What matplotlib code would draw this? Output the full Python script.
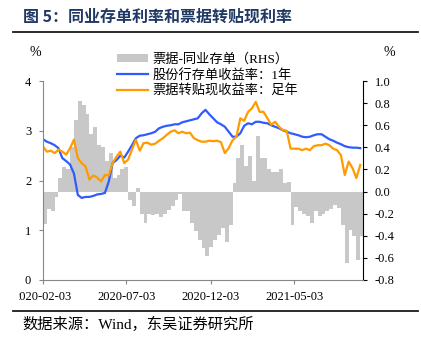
import matplotlib
matplotlib.use("Agg")
import matplotlib.pyplot as plt
import matplotlib.dates as mdates
from matplotlib.lines import Line2D
from matplotlib.patches import Patch, Rectangle
import numpy as np
import pandas as pd

plt.rcParams['axes.unicode_minus'] = False

# ---------------- data (weekly readings) ----------------
start_date = "2020-02-03"
end_date = "2021-09-04"
n_weeks = 83

deposit_1y = [2.83, 2.78, 2.75, 2.71, 2.65, 2.45, 2.39, 2.32, 2.14, 1.71,
              1.65, 1.67, 1.67, 1.69, 1.72, 1.73, 1.75, 1.98, 2.35, 2.41,
              2.50, 2.46, 2.58, 2.71, 2.85, 2.90, 2.91, 2.93, 2.95, 2.98,
              3.05, 3.08, 3.10, 3.11, 3.13, 3.13, 3.17, 3.19, 3.21, 3.23,
              3.25, 3.35, 3.42, 3.33, 3.25, 3.17, 3.13, 3.08, 2.98, 2.88,
              2.88, 2.95, 3.10, 3.15, 3.13, 3.18, 3.18, 3.16, 3.15, 3.11,
              3.08, 3.05, 3.01, 2.98, 2.95, 2.93, 2.91, 2.88, 2.87, 2.88,
              2.91, 2.93, 2.93, 2.88, 2.83, 2.80, 2.76, 2.73, 2.69, 2.67,
              2.66, 2.66, 2.65]

discount_1y = [2.68, 2.58, 2.60, 2.55, 2.62, 2.58, 2.52, 2.65, 2.82, 2.45,
               2.35, 2.28, 2.02, 2.10, 2.06, 1.98, 2.11, 2.10, 2.35, 2.48,
               2.58, 2.35, 2.42, 2.62, 2.82, 2.60, 2.75, 2.76, 2.72, 2.74,
               2.80, 2.85, 2.92, 2.98, 3.01, 2.95, 2.98, 2.95, 2.96, 2.85,
               2.81, 2.78, 2.78, 2.80, 2.79, 2.80, 2.77, 2.55, 2.65, 2.81,
               2.88, 3.25, 3.20, 3.38, 3.45, 3.58, 3.38, 3.38, 3.25, 3.12,
               3.18, 3.08, 3.01, 3.00, 2.64, 2.64, 2.64, 2.61, 2.64, 2.61,
               2.69, 2.71, 2.71, 2.74, 2.71, 2.64, 2.61, 2.51, 2.11, 2.38,
               2.25, 2.05, 2.31]

spread = [-0.29, -0.16, -0.18, -0.05, 0.12, 0.22, 0.20, 0.40, 0.65, 0.82,
          0.78, 0.70, 0.52, 0.58, 0.42, 0.40, 0.28, 0.35, 0.12, 0.15,
          0.20, 0.22, -0.08, -0.13, 0.03, -0.20, -0.28, -0.20, -0.21, -0.20,
          -0.23, -0.20, -0.17, -0.13, -0.08, -0.02, -0.18, -0.18, -0.28, -0.36,
          -0.44, -0.51, -0.58, -0.50, -0.44, -0.39, -0.33, -0.46, -0.30, 0.08,
          0.30, 0.42, 0.23, 0.32, 0.10, 0.50, 0.30, 0.30, 0.20, 0.18,
          0.18, 0.20, 0.08, 0.09, -0.30, -0.14, -0.18, -0.20, -0.22, -0.28,
          -0.18, -0.22, -0.20, -0.18, -0.16, -0.12, -0.15, -0.30, -0.65, -0.35,
          -0.40, -0.62, -0.40]

xtick_labels = ["2020-02-03", "2020-07-03", "2020-12-03", "2021-05-03"]
left_ticks = [0, 1, 2, 3, 4]
right_ticks = [-0.8, -0.6, -0.4, -0.2, 0.0, 0.2, 0.4, 0.6, 0.8, 1.0]

legend_labels = ["票据-同业存单（RHS）", "股份行存单收益率：1年", "票据转贴现收益率：足年"]
title = "图 5：同业存单利率和票据转贴现利率"
source = "数据来源：Wind，东吴证券研究所"

dates = pd.date_range(start_date, periods=n_weeks, freq="7D")

# ---------------- styling ----------------
BLUE = "#2F5BFF"
ORANGE = "#FF9A00"
GRAY = "#C8C8C8"
NAVY = "#1F3864"
SERIF = ["Liberation Serif", "Noto Sans CJK SC"]
CJK = ["Noto Sans CJK SC", "DejaVu Sans"]

W, H = 421, 348
fig = plt.figure(figsize=(W / 100, H / 100), dpi=100)

def fx(px):
    return px / W

def fy(py):
    return 1 - py / H

ax = fig.add_axes([fx(43), fy(280), fx(363) - fx(43), fy(81) - fy(280)])
ax2 = ax.twinx()
ax.set_zorder(ax2.get_zorder() + 1)
ax.patch.set_visible(False)

ax2.bar(dates, spread, width=7, align="edge", color=GRAY, linewidth=0)
ax.plot(dates, deposit_1y, color=BLUE, lw=1.6)
ax.plot(dates, discount_1y, color=ORANGE, lw=1.6)

ax.set_xlim(pd.Timestamp(start_date), pd.Timestamp(end_date))
ax.set_ylim(0, 4)
ax2.set_ylim(-0.8, 1.0)

ax.set_yticks(left_ticks)
ax.set_yticklabels([str(t) for t in left_ticks], fontfamily=SERIF, fontsize=9)
ax2.set_yticks(right_ticks)
ax2.set_yticklabels([f"{t:.1f}" for t in right_ticks], fontfamily=SERIF, fontsize=9)
ax.set_xticks(pd.to_datetime(xtick_labels))
ax.set_xticklabels(xtick_labels, fontfamily=SERIF, fontsize=9)

for a in (ax, ax2):
    a.spines["top"].set_visible(False)
ax.spines["right"].set_visible(False)
ax2.spines["left"].set_visible(False)
ax2.spines["bottom"].set_visible(False)
ax.spines["left"].set_color("#888888")
ax.spines["bottom"].set_color("#888888")
ax2.spines["right"].set_color("#000000")
ax.tick_params(axis="y", length=3, color="#888888", pad=5.5)
ax.tick_params(axis="x", length=3, color="#888888", pad=5)
ax2.tick_params(axis="y", length=3, color="#000000", pad=5.5)

# legend
handles = [Patch(facecolor=GRAY, edgecolor="none"),
           Line2D([], [], color=BLUE, lw=1.6),
           Line2D([], [], color=ORANGE, lw=1.6)]
fig.legend(handles, legend_labels, loc="upper left",
           bbox_to_anchor=(fx(112), fy(48)), frameon=False,
           prop={"family": SERIF, "size": 9.5}, handlelength=2.3,
           handleheight=0.55, labelspacing=0.2, handletextpad=0.4,
           borderaxespad=0)

fig.text(fx(35), fy(53), "%", ha="center", va="center", fontsize=10, fontfamily=SERIF)
fig.text(fx(389), fy(53), "%", ha="center", va="center", fontsize=10, fontfamily=SERIF)

fig.text(fx(23), fy(17), title, ha="left", va="center", fontsize=11.5,
         fontweight="bold", color=NAVY, fontfamily=CJK)
fig.add_artist(Line2D([fx(13), fx(418)], [fy(32), fy(32)], color="#1a1a1a", lw=1.3))
fig.add_artist(Line2D([fx(13), fx(418)], [fy(311), fy(311)], color="#1a1a1a", lw=1.3))
fig.text(fx(22), fy(324), source, ha="left", va="center", fontsize=11,
         fontfamily=SERIF)

# clip first tick label at left image edge like the reference
fig.add_artist(Rectangle((0, fy(305)), fx(19), fy(284) - fy(305),
                         transform=fig.transFigure, facecolor="white",
                         edgecolor="none", zorder=10))

fig.savefig("out.png", dpi=100)
